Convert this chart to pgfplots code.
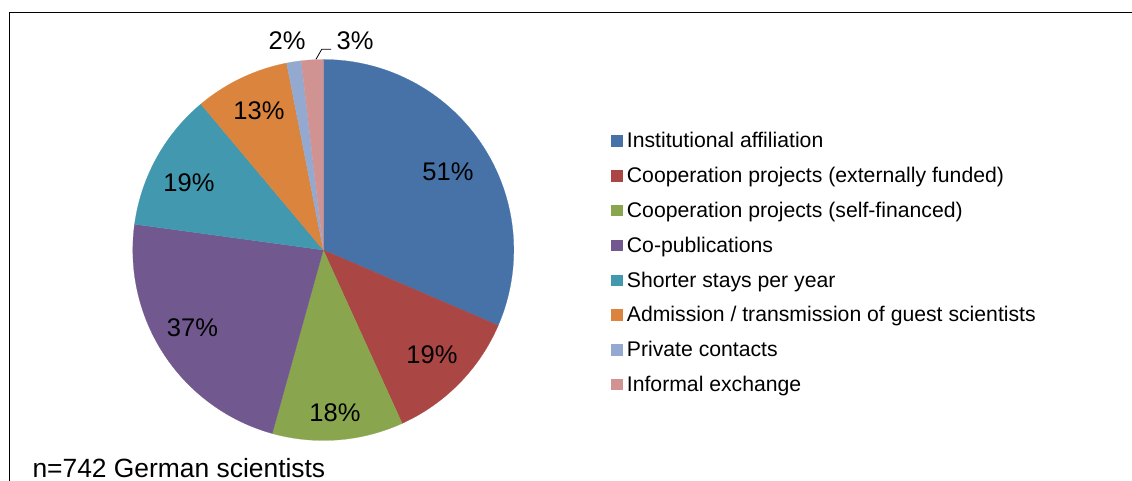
\documentclass[border=0pt]{standalone}
\usepackage{pgfplots}
\usepackage{pgfplotstable}
\pgfplotsset{compat=1.18}
\usepackage{fontspec}
\setmainfont{Liberation Sans}

\definecolor{c0}{HTML}{4672A8}
\definecolor{c1}{HTML}{AA4643}
\definecolor{c2}{HTML}{89A54E}
\definecolor{c3}{HTML}{71588F}
\definecolor{c4}{HTML}{4198AF}
\definecolor{c5}{HTML}{DB843D}
\definecolor{c6}{HTML}{93A9CF}
\definecolor{c7}{HTML}{D19392}

% label position (lx, ly) in pixels from the top-left corner
\pgfplotstableread[col sep=comma]{
label,value,lx,ly
Institutional affiliation,51,448,171.3
Cooperation projects (externally funded),19,432,355
Cooperation projects (self-financed),18,335,413
Co-publications,37,192.5,327.5
Shorter stays per year,19,189,183
Admission / transmission of guest scientists,13,259,111
Private contacts,2,287,41
Informal exchange,3,355,41
}\piedata

\def\pietotal{0}
\foreach \i in {0,...,7}{%
  \pgfplotstablegetelem{\i}{value}\of\piedata
  \pgfmathsetmacro\ptmp{\pietotal+\pgfplotsretval}%
  \xdef\pietotal{\ptmp}%
}
\def\piecum{0}
\foreach \i in {0,...,7}{%
  \pgfplotstablegetelem{\i}{value}\of\piedata
  \let\pv\pgfplotsretval
  \expandafter\xdef\csname pieV\i\endcsname{\pv}%
  \pgfmathsetmacro\pa{90-360*(\piecum/\pietotal)}%
  \pgfmathsetmacro\pnew{\piecum+\pv}%
  \pgfmathsetmacro\pb{90-360*(\pnew/\pietotal)}%
  \expandafter\xdef\csname pieA\i\endcsname{\pa}%
  \expandafter\xdef\csname pieB\i\endcsname{\pb}%
  \xdef\piecum{\pnew}%
  \pgfplotstablegetelem{\i}{label}\of\piedata
  \expandafter\xdef\csname pieL\i\endcsname{\pgfplotsretval}%
  \pgfplotstablegetelem{\i}{lx}\of\piedata
  \expandafter\xdef\csname pieX\i\endcsname{\pgfplotsretval}%
  \pgfplotstablegetelem{\i}{ly}\of\piedata
  \pgfmathsetmacro\py{481-\pgfplotsretval}%
  \expandafter\xdef\csname pieY\i\endcsname{\py}%
}

\def\cx{323.3}
\def\cy{231}
\def\rr{190.5}

\begin{document}
\begin{tikzpicture}
\useasboundingbox (0,0) rectangle (1132bp,481bp);
\begin{axis}[
  at={(0,0)}, anchor=south west,
  scale only axis, width=1132bp, height=481bp,
  xmin=0, xmax=1132, ymin=0, ymax=481,
  hide axis, clip=false,
  legend cell align=left,
  legend style={at={(axis cs:611,348)}, anchor=north west,
    draw=none, fill=none, inner sep=0pt, outer sep=0pt,
    row sep=14.4bp, column sep=5.2bp,
    nodes={inner sep=0pt, outer sep=0pt, text height=15bp, text depth=5.4bp,
      font=\fontsize{21.2bp}{25bp}\selectfont}},
  legend image code/.code={\fill[#1] (0bp,-2.75bp) rectangle (10.5bp,7.75bp);},
]
\pgfplotsinvokeforeach{0,...,7}{
  \addplot[fill=c#1, draw=c#1, line width=0.2bp,
    domain=\csname pieB#1\endcsname:\csname pieA#1\endcsname, samples=90]
    ({\cx+\rr*cos(x)},{\cy+\rr*sin(x)}) -- (\cx,\cy) -- cycle;
  \addlegendentry{\csname pieL#1\endcsname}
}
\pgfplotsinvokeforeach{0,...,7}{
  \node[font=\fontsize{25.5bp}{30bp}\selectfont, inner sep=0pt]
    at (axis cs:\csname pieX#1\endcsname,\csname pieY#1\endcsname)
    {\csname pieV#1\endcsname\%};
}
% leader line for the 3% label
\draw[black, line width=0.8bp] (axis cs:331,431.7) -- (axis cs:321.7,431.7) -- (axis cs:316,421.7);
% chart frame (top and left edges visible)
\draw[black, line width=1bp] (axis cs:9.5,0) -- (axis cs:9.5,468.7) -- (axis cs:1132,468.7);
\node[anchor=base west, inner sep=0pt, font=\fontsize{26.4bp}{30bp}\selectfont]
  at (axis cs:32.3,3.7) {n=742 German scientists};
\end{axis}
\end{tikzpicture}
\end{document}
